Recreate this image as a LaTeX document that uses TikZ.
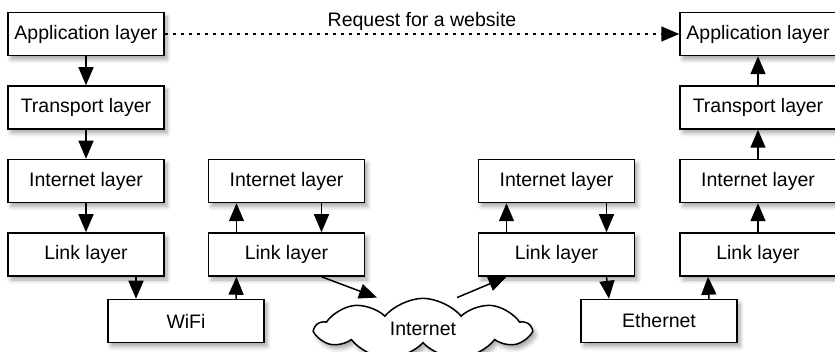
\documentclass[tikz,border=0pt]{standalone}
\usepackage{fontspec}
\setmainfont{Liberation Sans}
\usetikzlibrary{arrows.meta,positioning,shapes.symbols,shadows.blur}

\begin{document}
\begin{tikzpicture}[x=0.5pt,y=-0.5pt,node distance=14.5pt,
    layer/.style={
    % The shape:
    rectangle,minimum width=78pt,minimum height=21.5pt,inner sep=0pt,
    % The rest
    draw=black,line width=0.75pt,fill=white,
    blur shadow={shadow xshift=1.5pt,shadow yshift=-2pt,shadow blur steps=6,shadow opacity=35},
    font=\fontsize{9.75}{11.7}\selectfont},
    net/.style={
    cloud,cloud puffs=9,cloud puff arc=100,aspect=4.2,
    minimum width=107pt,minimum height=28pt,
    draw=black,line width=0.75pt,fill=white,
    blur shadow={shadow xshift=1.5pt,shadow yshift=-2pt,shadow blur steps=6,shadow opacity=35},
    font=\fontsize{9.75}{11.7}\selectfont},
    arr/.style={line width=0.75pt,-{Triangle[length=9pt,width=7.5pt]}}]
    \useasboundingbox (0,0) rectangle (835,352);
    % sending host
    \node (app1) [layer] at (86,34) {Application layer};
    \node (trans1) [layer,below=of app1] {Transport layer};
    \node (inet1) [layer,below=of trans1] {Internet layer};
    \node (link1) [layer,below=of inet1] {Link layer};
    % receiving host
    \node (app4) [layer] at (758,34) {Application layer};
    \node (trans4) [layer,below=of app4] {Transport layer};
    \node (inet4) [layer,below=of trans4] {Internet layer};
    \node (link4) [layer,below=of inet4] {Link layer};
    % routers
    \node (inet2) [layer,right=21.5pt of inet1] {Internet layer};
    \node (link2) [layer,below=of inet2] {Link layer};
    \node (inet3) [layer,left=22pt of inet4] {Internet layer};
    \node (link3) [layer,below=of inet3] {Link layer};
    % media
    \node (wifi) [layer] at (186,321) {WiFi};
    \node (eth) [layer] at (659,321) {Ethernet};
    \node (net) [net] at (423,329) {Internet};

    \draw[arr,dash pattern=on 1.5pt off 2.5pt] (app1.east) -- node[above=1.5pt,inner sep=0pt,font=\fontsize{9.75}{11.7}\selectfont] {Request for a website} (app4.west);
    \draw[arr] (app1) -- (trans1);
    \draw[arr] (trans1) -- (inet1);
    \draw[arr] (inet1) -- (link1);
    \draw[arr] ([xshift=25pt]link1.south) -- ([xshift=-25pt]wifi.north);
    \draw[arr] ([xshift=25pt]wifi.north) -- ([xshift=-25pt]link2.south);
    \draw[arr] ([xshift=-25pt]link2.north) -- ([xshift=-25pt]inet2.south);
    \draw[arr] ([xshift=17.5pt]inet2.south) -- ([xshift=17.5pt]link2.north);
    \draw[arr] ([xshift=17.5pt]link2.south) -- ([xshift=-23pt]net.north);
    \draw[arr] ([xshift=17pt]net.north) -- ([xshift=-25pt]link3.south);
    \draw[arr] ([xshift=-25pt]link3.north) -- ([xshift=-25pt]inet3.south);
    \draw[arr] ([xshift=25pt]inet3.south) -- ([xshift=25pt]link3.north);
    \draw[arr] ([xshift=25pt]link3.south) -- ([xshift=-25pt]eth.north);
    \draw[arr] ([xshift=25pt]eth.north) -- ([xshift=-25pt]link4.south);
    \draw[arr] (link4) -- (inet4);
    \draw[arr] (inet4) -- (trans4);
    \draw[arr] (trans4) -- (app4);
\end{tikzpicture}
\end{document}
